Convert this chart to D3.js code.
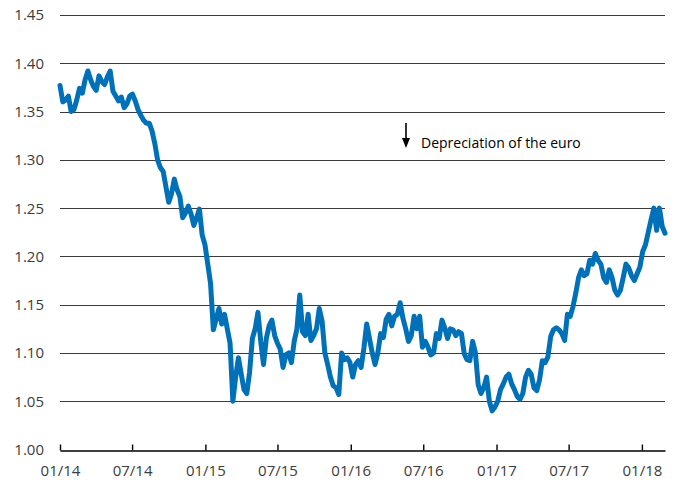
<!DOCTYPE html>
<html>
<head>
<meta charset="utf-8">
<script src="https://cdn.jsdelivr.net/npm/d3@7"></script>
<style>
    body { margin: 0; background: #fff; }
    svg { display: block; font-family: "Open Sans", sans-serif; }
</style>
</head>
<body>
<div id="chart"></div>
<script>
// EUR/USD, weekly readings (Wednesdays) starting 1 Jan 2014
var rates2014 = [1.377, 1.360, 1.362, 1.366, 1.350, 1.352, 1.362, 1.374, 1.369, 1.383,
    1.392, 1.383, 1.376, 1.372, 1.387, 1.381, 1.378, 1.386, 1.392, 1.371,
    1.366, 1.361, 1.365, 1.354, 1.358, 1.366, 1.368, 1.361, 1.352, 1.346,
    1.341, 1.338, 1.338, 1.330, 1.317, 1.300, 1.292, 1.288, 1.272, 1.256,
    1.265, 1.280, 1.269, 1.262, 1.240, 1.245, 1.252, 1.244, 1.232, 1.240,
    1.249, 1.222, 1.212];
var rates2015 = [1.192, 1.172, 1.124, 1.135, 1.146, 1.130, 1.140, 1.125, 1.110, 1.050,
    1.075, 1.095, 1.078, 1.062, 1.058, 1.080, 1.115, 1.125, 1.142, 1.112,
    1.088, 1.115, 1.128, 1.134, 1.118, 1.110, 1.104, 1.085, 1.098, 1.100,
    1.090, 1.112, 1.125, 1.160, 1.122, 1.118, 1.140, 1.113, 1.118, 1.125,
    1.146, 1.133, 1.100, 1.088, 1.075, 1.066, 1.064, 1.057, 1.100, 1.093,
    1.095, 1.090];
var rates2016 = [1.075, 1.088, 1.092, 1.085, 1.105, 1.130, 1.115, 1.100, 1.088, 1.100,
    1.120, 1.116, 1.135, 1.140, 1.128, 1.138, 1.140, 1.152, 1.136, 1.125,
    1.112, 1.118, 1.138, 1.125, 1.138, 1.106, 1.112, 1.106, 1.098, 1.100,
    1.120, 1.115, 1.134, 1.126, 1.115, 1.125, 1.124, 1.118, 1.122, 1.120,
    1.099, 1.093, 1.092, 1.112, 1.100, 1.067, 1.058, 1.064, 1.075, 1.050,
    1.040, 1.044];
var rates2017 = [1.050, 1.062, 1.068, 1.075, 1.078, 1.068, 1.062, 1.055, 1.052, 1.058,
    1.075, 1.082, 1.078, 1.064, 1.061, 1.072, 1.092, 1.090, 1.096, 1.117,
    1.124, 1.126, 1.124, 1.120, 1.113, 1.140, 1.138, 1.148, 1.162, 1.178,
    1.186, 1.180, 1.182, 1.196, 1.192, 1.203, 1.196, 1.192, 1.178, 1.173,
    1.186, 1.178, 1.165, 1.160, 1.165, 1.178, 1.192, 1.188, 1.180, 1.175,
    1.182, 1.189];
var rates2018 = [1.205, 1.212, 1.225, 1.238, 1.250, 1.227, 1.250, 1.231, 1.224];

var yTicks = [1.00, 1.05, 1.10, 1.15, 1.20, 1.25, 1.30, 1.35, 1.40, 1.45];
var noteText = "Depreciation of the euro";

var width = 678, height = 482;
var startDate = new Date(2014, 0, 1), endDate = new Date(2018, 1, 28);

var rates = [].concat(rates2014, rates2015, rates2016, rates2017, rates2018);
var data = rates.map(function (v, i) {
    return {date: d3.timeDay.offset(startDate, 7 * i), value: v};
});

var svg = d3.select('#chart')
    .append('svg')
    .attr('width', width)
    .attr('height', height);

var x = d3.scaleTime()
    .domain([startDate, endDate])
    .range([60, 665]);

var y = d3.scaleLinear()
    .domain([1.00, 1.45])
    .range([449.5, 15]);

// horizontal grid
svg.append('g')
    .selectAll('line')
    .data(yTicks.slice(1))
    .enter().append('line')
    .attr('x1', x.range()[0])
    .attr('x2', x.range()[1])
    .attr('y1', function (d) { return Math.round(y(d)) + 0.5; })
    .attr('y2', function (d) { return Math.round(y(d)) + 0.5; })
    .style('stroke', '#3a3a3a')
    .style('stroke-width', 1.2);

// y labels
svg.append('g')
    .selectAll('text')
    .data(yTicks)
    .enter().append('text')
    .attr('x', 44)
    .attr('y', function (d) { return y(d); })
    .attr('dy', '0.36em')
    .attr('text-anchor', 'end')
    .style('font-size', '15px')
    .style('fill', '#3c3c3c')
    .text(function (d) { return d.toFixed(2); });

// x axis
var xAxis = d3.axisBottom(x)
    .ticks(d3.timeMonth.every(6))
    .tickFormat(d3.timeFormat('%m/%y'))
    .tickSizeInner(-6)
    .tickSizeOuter(0)
    .tickPadding(15);

var gx = svg.append('g')
    .attr('transform', 'translate(0,' + (Math.round(y(1.00)) + 0.5) + ')')
    .call(xAxis);

gx.select('.domain').style('stroke', '#000').style('stroke-width', 1.6);
gx.selectAll('.tick line').style('stroke', '#000').style('stroke-width', 1.4);
gx.selectAll('.tick text')
    .style('font-family', '"Open Sans", sans-serif')
    .style('font-size', '15px')
    .style('fill', '#3c3c3c');

// rate line
var line = d3.line()
    .x(function (d) { return x(d.date); })
    .y(function (d) { return y(d.value); });

svg.append('path')
    .datum(data)
    .attr('d', line)
    .style('fill', 'none')
    .style('stroke', '#0070b8')
    .style('stroke-width', 5)
    .style('stroke-linejoin', 'round')
    .style('stroke-linecap', 'round');

// annotation
var note = svg.append('g').attr('transform', 'translate(406,0)');
note.append('line')
    .attr('x1', 0).attr('x2', 0)
    .attr('y1', 123).attr('y2', 140)
    .style('stroke', '#000')
    .style('stroke-width', 1.6);
note.append('path')
    .attr('d', 'M-4,138L4,138L0,148Z')
    .style('fill', '#000');
note.append('text')
    .attr('x', 15)
    .attr('y', 148)
    .style('font-size', '14px')
    .style('fill', '#000')
    .text(noteText);
</script>
</body>
</html>
